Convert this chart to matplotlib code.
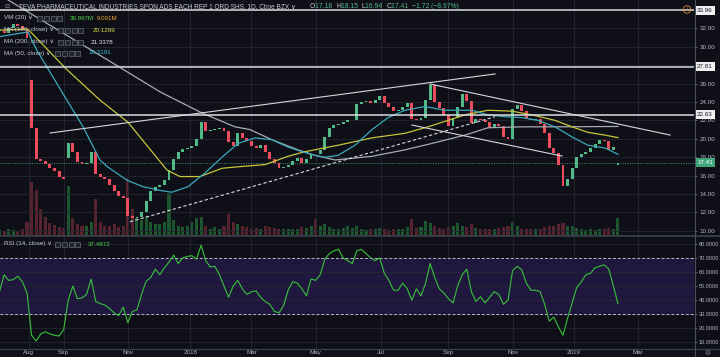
import matplotlib
matplotlib.use("Agg")
import matplotlib.pyplot as plt
import matplotlib.transforms as mtransforms
from matplotlib.patches import Rectangle
import numpy as np

# ─── data ─────────────────────────────────────────────────────────────────────
# bar index = trading days since 3 Jul 2017, one candle per 3 sessions
bar_idx = np.arange(1, 407, 3)

closes = [31.7, 31.5, 32.0, 32.5, 32.3, 31.8, 30.9, 21.2, 17.8, 17.6,
          17.3, 16.8, 16.5, 15.8, 15.6, 19.5, 18.6, 17.5, 17.3, 17.4,
          18.6, 16.2, 15.9, 15.6, 15.0, 14.3, 13.8, 13.6, 11.6, 11.4,
          11.5, 12.0, 13.3, 14.3, 14.8, 15.0, 15.5, 16.6, 17.8, 18.6,
          18.9, 19.0, 19.2, 20.0, 21.8, 20.8, 21.0, 21.1, 21.2, 20.8,
          19.6, 19.2, 20.6, 20.1, 19.8, 19.2, 19.0, 19.3, 18.6, 17.8,
          17.4, 16.8, 16.9, 17.2, 17.6, 17.9, 17.4, 17.8, 18.4, 18.3,
          18.8, 20.2, 21.2, 21.5, 21.6, 21.8, 22.0, 22.0, 23.8, 24.0,
          24.1, 23.9, 24.2, 24.6, 23.9, 23.4, 23.0, 23.1, 23.4, 23.9,
          22.2, 22.0, 22.3, 24.2, 25.8, 24.0, 23.3, 22.6, 21.4, 22.3,
          23.5, 24.9, 24.1, 21.7, 22.1, 22.0, 21.8, 21.3, 21.6, 21.4,
          20.2, 20.0, 23.2, 23.7, 23.0, 22.2, 22.0, 22.1, 21.6, 20.6,
          19.0, 18.5, 17.2, 14.9, 15.6, 16.8, 18.0, 18.3, 18.6, 19.0,
          19.4, 19.9, 19.8, 18.8, 19.13, 17.41]

# opens that gapped away from the previous close (bar position -> open)
gap_opens = {7: 26.4, 15: 17.9, 135: 17.18}

volumes = [12, 10, 14, 11, 9, 13, 30, 125, 105, 60,
           42, 28, 24, 19, 17, 115, 40, 25, 20, 22,
           30, 85, 30, 22, 20, 25, 18, 20, 135, 60,
           40, 35, 45, 30, 25, 25, 30, 98, 35, 20,
           18, 22, 30, 40, 42, 20, 15, 18, 14, 20,
           50, 30, 25, 20, 18, 15, 17, 14, 20, 18,
           16, 14, 15, 13, 15, 14, 18, 16, 22, 38,
           20, 25, 18, 14, 15, 17, 20, 16, 22, 15,
           12, 14, 13, 16, 14, 12, 13, 15, 14, 18,
           38, 16, 18, 34, 28, 20, 16, 14, 18, 20,
           28, 22, 18, 25, 16, 14, 15, 13, 14, 16,
           18, 20, 30, 22, 15, 14, 13, 15, 14, 18,
           20, 22, 25, 28, 22, 20, 16, 14, 12, 13,
           12, 14, 13, 16, 15, 40]

rsi = [46, 58, 54, 54.5, 57, 53, 45, 15, 11, 16,
       17.5, 16, 15, 14.5, 19, 40, 50, 41, 41.5, 44,
       55, 39, 37.5, 36.5, 34, 31, 29, 35, 24, 32,
       33, 44, 53.5, 56, 62, 58, 63, 67, 72, 66,
       70, 71, 71.5, 69, 79, 68, 63.5, 64, 58, 50,
       42, 50, 54, 48, 44, 46, 46.5, 42, 39, 37,
       32, 31, 36, 47, 53, 52, 48, 43, 55, 54,
       58, 69, 73, 75, 76, 70, 68, 66, 75, 76,
       73, 70, 68, 70, 59, 54, 47, 47, 52, 48,
       40, 48, 43, 52, 66, 56, 48, 45, 41, 38,
       50, 58, 62, 46, 39, 42.4, 38, 42, 46, 44,
       37, 40, 61, 64, 61.5, 52, 47, 47, 46, 37,
       25, 28, 21, 15, 27, 38, 49, 53, 58, 59,
       63, 64, 65, 62, 50, 37.49]

ma50_x = [1.3, 19.6, 25.5, 36.0, 55.7, 66.8, 71.4, 84.5, 95.0, 106.1, 113.9,
          124.4, 135.6, 146.7, 157.2, 168.3, 179.4, 189.9, 199.1, 207.6,
          214.1, 222.7, 233.8, 244.9, 255.4, 266.5, 279.6, 292.7, 303.9,
          310.4, 320.9, 332.0, 343.2, 353.6, 364.8, 375.9, 386.4, 397.5, 406.0]
ma50_y = [31.1, 31.6, 29.6, 26.7, 21.3, 17.7, 17.0, 15.5, 14.8, 14.4, 14.2,
          14.8, 16.3, 18.0, 19.5, 20.1, 19.9, 19.1, 18.6, 18.2,
          18.0, 18.2, 19.3, 21.0, 22.3, 23.1, 23.5, 23.1, 23.1,
          23.1, 22.6, 22.4, 22.3, 22.0, 21.3, 20.2, 19.3, 19.0, 18.32]

ma100_x = [1.3, 19.6, 45.2, 66.8, 85.1, 110.7, 119.2, 132.3, 146.7, 159.8,
           174.9, 189.9, 201.0, 222.7, 244.9, 266.5, 281.6, 294.7, 305.8,
           320.9, 336.6, 349.7, 364.8, 375.9, 386.4, 397.5, 406.0]
ma100_y = [31.8, 31.9, 27.5, 24.2, 21.8, 16.6, 15.9, 15.9, 16.8, 17.0,
           17.2, 18.1, 18.6, 19.3, 20.1, 20.6, 21.3, 22.0, 22.6,
           23.1, 23.0, 22.6, 22.0, 21.3, 20.7, 20.4, 20.13]

ma200_x = [1.3, 71.4, 106.1, 133.6, 155.2, 165.0, 179.4, 196.5, 207.6,
           220.7, 244.9, 266.5, 284.2, 305.8, 320.9, 343.2, 364.8, 406.0]
ma200_y = [35.6, 28.6, 25.1, 22.8, 21.3, 21.0, 19.9, 18.8, 18.2,
           17.7, 18.1, 18.8, 19.5, 20.4, 21.2, 21.3, 21.3, 21.34]

# drawn trend lines: (x0, y0, x1, y1, dashed)
trend_lines = [(34.1, 20.63, 325.5, 27.04, False),
               (282.9, 25.95, 440.1, 20.41, False),
               (271.1, 21.49, 369.4, 18.13, False),
               (86.4, 10.99, 325.5, 22.40, True)]
level_lines = [33.96, 27.81, 22.63]
last_close = 17.41

month_pos = [20, 43, 85, 126, 166, 208, 251, 295, 337, 377, 419]
month_lab = ["Aug", "Sep", "Nov", "2018", "Mar", "May", "Jul", "Sep", "Nov", "2019", "Mar"]
price_ticks = [32, 30, 26, 24, 22, 20, 18, 16, 14, 12, 10]
price_grid = [10, 12, 14, 16, 18, 20, 22, 24, 26, 28, 30, 32]
rsi_ticks = [80, 70, 60, 50, 40, 30, 20, 10]

# ─── style ────────────────────────────────────────────────────────────────────
W, H = 720, 357
BG = "#0e0f17"
GRID = "#242733"
TXT = "#b4b7c0"
UP, DOWN = "#53b987", "#eb4d5c"
VUP, VDOWN = "#1f5e31", "#5f2631"
FONT = ["Liberation Sans", "DejaVu Sans"]
FS = 4.5


def fx(px):
    return px / W


def fy(py):
    return 1 - py / H


fig = plt.figure(figsize=(W / 100, H / 100), dpi=100, facecolor=BG)
renderer = fig.canvas.get_renderer()

rect_p = [0, fy(235), fx(694), 235 / H]
rect_r = [0, fy(348), fx(694), 112 / H]
XLIM = (1.31, 455.8)

ax_v = fig.add_axes(rect_p)
ax_v.set_axis_off()
ax_p = fig.add_axes(rect_p, facecolor="none")
ax_r = fig.add_axes(rect_r, facecolor=BG)
ax_v.set_zorder(0)
ax_p.set_zorder(1)

for ax in (ax_p, ax_r):
    for s in ax.spines.values():
        s.set_visible(False)
    ax.set_xlim(*XLIM)
    for m in month_pos:
        ax.axvline(m, color=GRID, lw=0.6, zorder=0)

# ─── price pane ───────────────────────────────────────────────────────────────
closes_a = np.array(closes)
opens_a = np.r_[closes_a[0], closes_a[:-1]]
for i, o in gap_opens.items():
    opens_a[i] = o
up = closes_a >= opens_a
ax_p.set_ylim(9.556, 35.07)
for lv in price_grid:
    ax_p.axhline(lv, color=GRID, lw=0.6, zorder=0)

ax_v.set_xlim(*XLIM)
ax_v.set_ylim(0, 552)
ax_v.bar(bar_idx, volumes, width=2.0, color=np.where(up, VUP, VDOWN), alpha=0.9)

ax_p.bar(bar_idx, np.maximum(np.abs(closes_a - opens_a), 0.08),
         bottom=np.minimum(opens_a, closes_a), width=1.9,
         color=np.where(up, UP, DOWN), zorder=4)

ax_p.plot(ma200_x, ma200_y, color="#a9abb3", lw=0.9, zorder=5)
ax_p.plot(ma100_x, ma100_y, color="#c9c53a", lw=0.9, zorder=5)
ax_p.plot(ma50_x, ma50_y, color="#3aa9bb", lw=0.9, zorder=5)

for x0, y0, x1, y1, dashed in trend_lines:
    ax_p.plot([x0, x1], [y0, y1], color="#d6d8de", lw=0.8, zorder=6,
              ls=(0, (3, 2)) if dashed else "-")
for lv in level_lines:
    ax_p.axhline(lv, color="#dcdde2", lw=1.1, zorder=6)
ax_p.axhline(last_close, color="#3c9470", lw=0.7, ls=(0, (1, 1.5)), zorder=3)

ax_p.set_xticks(month_pos)
ax_p.set_xticklabels([])
ax_p.tick_params(axis="x", length=0)
ax_p.yaxis.tick_right()
ax_p.set_yticks(price_ticks)
ax_p.set_yticklabels([f"{v:.2f}" for v in price_ticks], family=FONT)
ax_p.tick_params(axis="y", length=2, color="#555a66", labelsize=FS,
                 labelcolor=TXT, pad=2.2)

blend = mtransforms.blended_transform_factory(ax_p.transAxes, ax_p.transData)
for lv in level_lines:
    ax_p.text(1.0045, lv, f"{lv:.2f}", transform=blend, ha="left", va="center",
              fontsize=FS, color="#131722", family=FONT, clip_on=False, zorder=10,
              bbox=dict(boxstyle="square,pad=0.3", fc="#f0f0f0", ec="none"))
ax_p.text(1.0045, last_close, f"{last_close:.2f}", transform=blend, ha="left",
          va="center", fontsize=FS, color="white", family=FONT, clip_on=False,
          zorder=10, bbox=dict(boxstyle="square,pad=0.3", fc="#3fa67a", ec="none"))

# ─── RSI pane ─────────────────────────────────────────────────────────────────
ax_r.set_ylim(6.0, 85.5)
ax_r.axhspan(30, 70, color="#20173e", zorder=0)
for lv in (80, 60, 50, 40, 20, 10):
    ax_r.axhline(lv, color=GRID, lw=0.6, zorder=1)
for lv in (70, 30):
    ax_r.axhline(lv, color="#b9bcc4", lw=0.7, ls=(0, (3, 2)), zorder=2)
ax_r.plot(bar_idx, rsi, color="#37c23b", lw=0.8, zorder=4)

ax_r.yaxis.tick_right()
ax_r.set_yticks(rsi_ticks)
ax_r.set_yticklabels([f"{v:.4f}" for v in rsi_ticks], family=FONT)
ax_r.tick_params(axis="y", length=2, color="#555a66", labelsize=4.0,
                 labelcolor=TXT, pad=1.6)
ax_r.set_xticks(month_pos)
ax_r.set_xticklabels(month_lab, family=FONT)
ax_r.tick_params(axis="x", length=0, labelsize=FS, labelcolor=TXT, pad=1.2)

# ─── frame lines ──────────────────────────────────────────────────────────────
fig.add_artist(plt.Line2D([0, 1], [fy(235.5), fy(235.5)], color="#3b3f4b", lw=1.3))
fig.add_artist(plt.Line2D([0, 1], [fy(348.5), fy(348.5)], color="#3b3f4b", lw=1.0))
fig.add_artist(plt.Line2D([fx(694.5), fx(694.5)], [0, 1], color="#4c505c", lw=0.8))


# ─── legends / header ─────────────────────────────────────────────────────────
def text_run(x, y, parts, size=FS):
    for s, c in parts:
        t = fig.text(fx(x), fy(y), s, color=c, fontsize=size, va="center",
                     ha="left", family=FONT, zorder=20)
        x += t.get_window_extent(renderer=renderer).width
    return x


def icons(x, y):
    for i in range(4):
        fig.add_artist(Rectangle((fx(x + i * 6.8), fy(y + 2.5)), fx(5), 5 / H,
                                 transform=fig.transFigure, fc="#20232c",
                                 ec="#70737d", lw=0.45, zorder=20))


LBL = "#c9ccd3"
text_run(4, 7, [("⊟", "#80838c")])
text_run(19, 7, [("TEVA PHARMACEUTICAL INDUSTRIES SPON ADS EACH REP 1 ORD SHS, 1D, Cboe BZX ∨", LBL)], 4.7)
text_run(310, 7, [("O", LBL), ("17.18  ", UP), ("H", LBL), ("18.15  ", UP),
                  ("L", LBL), ("16.94  ", UP), ("C", LBL), ("17.41  ", UP),
                  ("\u22121.72 (\u22128.97%)", UP)], 4.9)

text_run(4, 18, [("VM (20) ∨", LBL)])
icons(37, 18)
text_run(70, 18, [("39.997M", "#52d14a")])
text_run(97, 18, [("9.091M", "#f0a030")])

text_run(4, 30, [("MA (100, close) ∨", LBL)])
icons(58, 30)
text_run(93, 30, [("20.1269", "#e2df45")])

text_run(4, 42, [("MA (200, close) ∨", LBL)])
icons(58, 42)
text_run(91, 42, [("21.3378", "#e6e7ea")])

text_run(4, 53, [("MA (50, close) ∨", LBL)])
icons(55, 53)
text_run(88, 53, [("18.3191", "#45c6d6")])

text_run(4, 244, [("RSI (14, close) ∨", LBL)])
icons(55, 244)
text_run(88, 244, [("37.4872", "#4fd04a")])

fig.text(fx(687), fy(9.5), "!", color="#e08a2a", fontsize=3.6, ha="center",
         va="center", family=FONT,
         bbox=dict(boxstyle="circle,pad=0.25", fc="none", ec="#e08a2a", lw=0.6))
fig.text(fx(707), fy(353), "\u2699", color="#8a8d96", fontsize=5, ha="center",
         va="center", family=["DejaVu Sans"])

fig.savefig("out.png", dpi=100, facecolor=BG)
